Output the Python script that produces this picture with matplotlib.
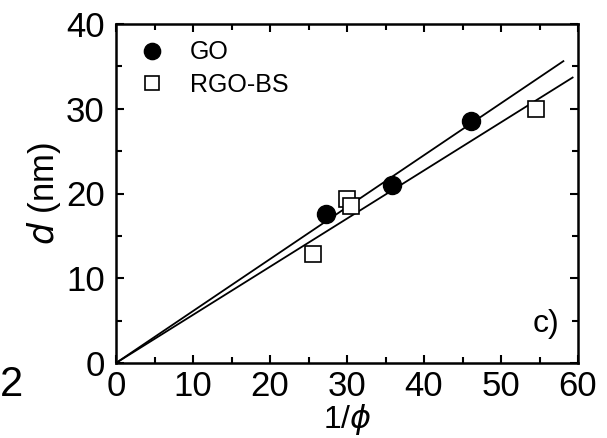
import numpy as np
import matplotlib
matplotlib.use("Agg")
import matplotlib.pyplot as plt

plt.rcParams["font.family"] = ["Liberation Sans", "DejaVu Sans"]

go_x = [27.3, 35.9, 46.1]
go_y = [17.6, 21.0, 28.6]
rgo_x = [25.6, 30.0, 30.5, 54.5]
rgo_y = [12.9, 19.4, 18.5, 30.0]
fit_slopes = [0.613, 0.568]
fit_xmax = [58.1, 59.3]


def main():
    fig = plt.figure(figsize=(6.07, 4.38), dpi=100)
    ax = fig.add_axes([116 / 607, 1 - 363 / 438, 462 / 607, 339 / 438])

    for k, xm in zip(fit_slopes, fit_xmax):
        xs = np.array([0, xm])
        ax.plot(xs, k * xs, color="black", lw=1.3)

    ax.plot(go_x, go_y, "o", color="black", ms=13, label="GO")
    ax.plot(rgo_x, rgo_y, "s", mfc="white", mec="black", mew=1.2, ms=11,
            label="RGO-BS")

    ax.set_xlim(0, 60)
    ax.set_ylim(0, 40)
    ax.set_xticks(range(0, 61, 10))
    ax.set_yticks(range(0, 41, 10))
    ax.set_xticks(range(5, 60, 10), minor=True)
    ax.set_yticks(range(5, 40, 10), minor=True)
    ax.tick_params(which="both", direction="in", top=True, right=True,
                   labelsize=25, width=1.5)
    ax.tick_params(which="major", length=6)
    ax.tick_params(which="minor", length=4)
    ax.tick_params(axis="x", pad=5)
    ax.tick_params(axis="y", pad=8)
    for s in ax.spines.values():
        s.set_linewidth(1.8)

    ax.set_xlabel(r"1/$\phi$", fontsize=23, labelpad=-1)
    ax.set_ylabel(r"$d$ (nm)", fontsize=25, labelpad=2)

    ax.legend(loc="upper left", frameon=False, fontsize=18, handletextpad=0.7,
              borderaxespad=0.25, labelspacing=0.35, markerscale=0.9,
              handlelength=1.6)
    ax.text(0.96, 0.115, "c)", transform=ax.transAxes, fontsize=23,
            ha="right", va="center")

    fig.text(0.0, 0.12, "2", fontsize=30, ha="left", va="center")

    fig.savefig("out.png", dpi=100)


if __name__ == "__main__":
    main()
